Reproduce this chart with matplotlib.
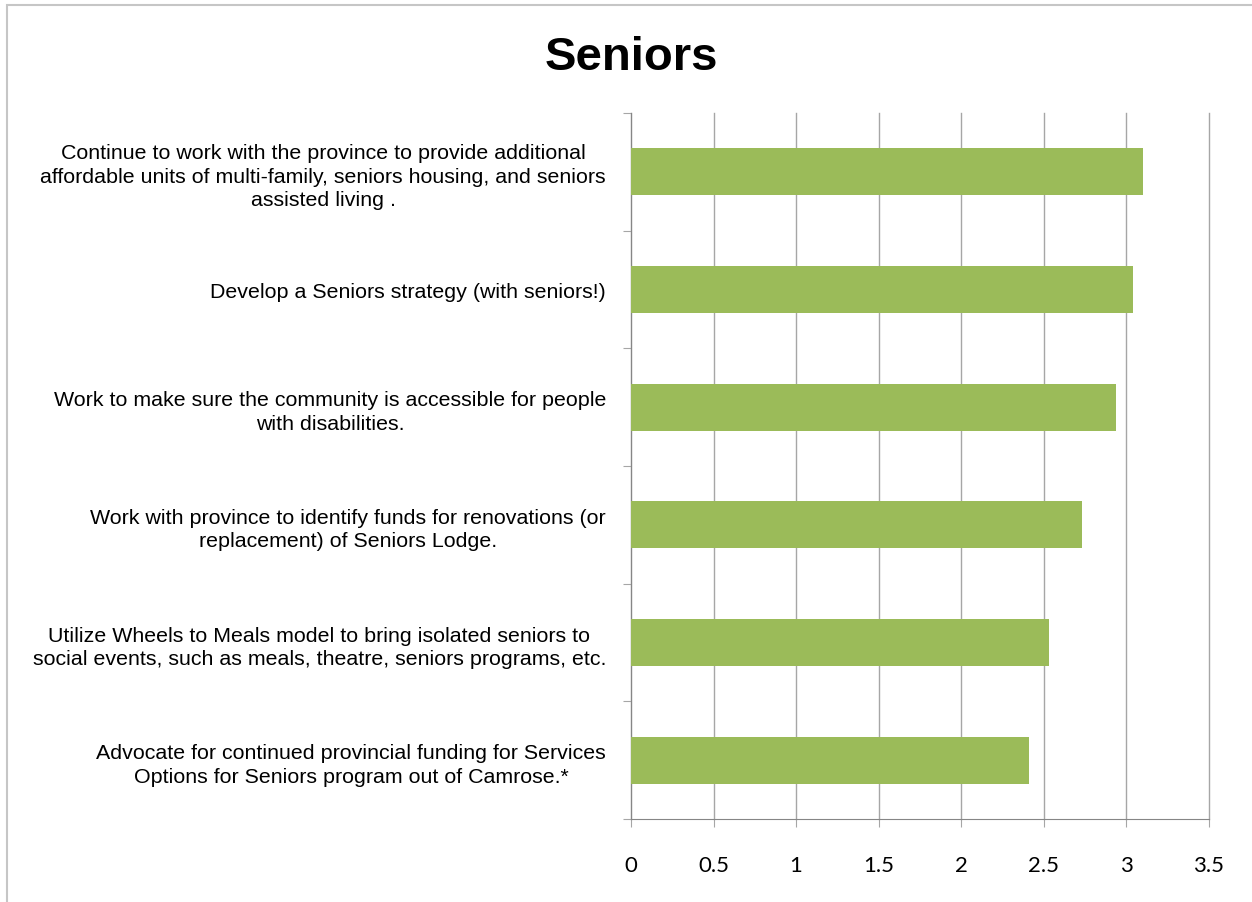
import numpy as np
import matplotlib.pyplot as plt
from matplotlib.patches import Rectangle

# Prioridades - Seniors
prioridades = [
    "Continue to work with the province to provide additional\naffordable units of multi-family, seniors housing, and seniors\nassisted living .",
    "Develop a Seniors strategy (with seniors!)",
    "Work to make sure the community is accessible for people\nwith disabilities.",
    "Work with province to identify funds for renovations (or\nreplacement) of Seniors Lodge.",
    "Utilize Wheels to Meals model to bring isolated seniors to\nsocial events, such as meals, theatre, seniors programs, etc.",
    "Advocate for continued provincial funding for Services\nOptions for Seniors program out of Camrose.*",
]
puntajes = [3.10, 3.04, 2.94, 2.73, 2.53, 2.41]
ticks_x = [0, 0.5, 1, 1.5, 2, 2.5, 3, 3.5]
etiquetas_x = ["0", "0.5", "1", "1.5", "2", "2.5", "3", "3.5"]

gris = "#a6a6a6"

fig = plt.figure(figsize=(12.52, 9.03), dpi=100)
ax = fig.add_axes([0.504, 0.0919, 0.4614, 0.7819])

y = np.arange(len(prioridades))
ax.barh(y, puntajes, height=0.4, color="#9bbb59", zorder=3)

ax.set_xlim(0, 3.5)
ax.set_ylim(len(prioridades) - 0.5, -0.5)
ax.set_xticks(ticks_x)
ax.set_xticklabels(etiquetas_x, fontsize=16, family="Lato")
ax.grid(axis="x", color=gris, linewidth=1, zorder=0)
for linea in ax.get_xgridlines():
    linea.set_clip_on(False)

# marcas del eje y en los bordes de cada categoria, etiquetas al centro
ax.set_yticks(np.arange(len(prioridades) + 1) - 0.5)
ax.set_yticklabels([])
ax.set_yticks(y, minor=True)
ax.set_yticklabels(prioridades, minor=True, fontsize=15.4, family="Liberation Sans",
                   multialignment="center", linespacing=1.3)
ax.tick_params(axis="y", which="minor", length=0, pad=18)
ax.tick_params(axis="y", which="major", length=6, color=gris, direction="out")
ax.tick_params(axis="x", length=6, color=gris, direction="out", pad=20)

for lado in ["top", "right"]:
    ax.spines[lado].set_visible(False)
ax.spines["left"].set_color("#868686")
ax.spines["bottom"].set_color("#868686")

fig.text(0.504, 0.9355, "Seniors", ha="center", va="center", fontsize=34,
         fontweight="bold", family="Liberation Sans")

# borde del area del grafico
fig.patches.append(Rectangle((6.5 / 1252, -0.1), 1.2, 1.1 - 5.5 / 903,
                             transform=fig.transFigure, fill=False,
                             edgecolor="#c6c6c6", linewidth=1.5))

plt.savefig("out.png", dpi=100)
